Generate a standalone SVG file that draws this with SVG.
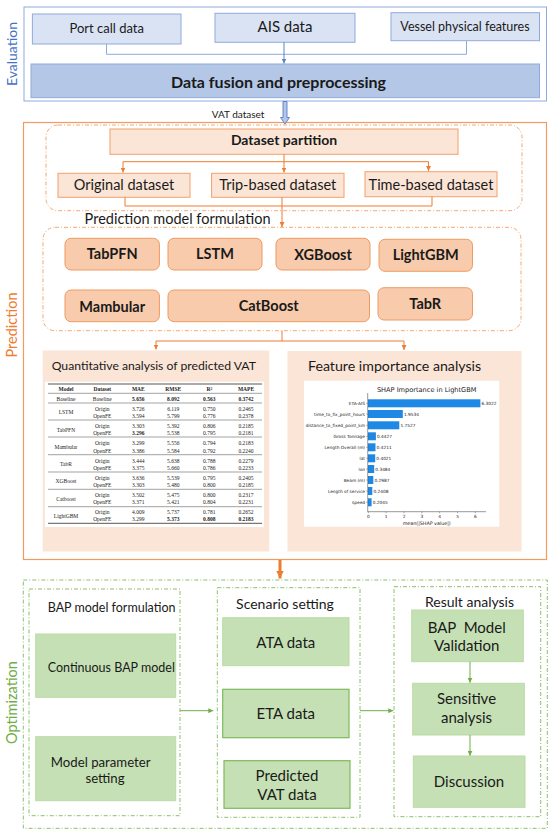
<svg xmlns="http://www.w3.org/2000/svg" width="550" height="834" viewBox="0 0 550 834">
<defs>
<style>
text{font-family:Lato,"Open Sans","Liberation Sans",sans-serif;fill:#1a1a1a}
.c{text-anchor:middle}
.b{font-weight:bold}
.blue{fill:#dae3f3;stroke:#8faadc;stroke-width:1}
.part{fill:#fbe5d6;stroke:#f2a06b;stroke-width:1}
.mdl{fill:#f8cbad;stroke:#f09a5f;stroke-width:1}
.odash{fill:none;stroke:#f4a872;stroke-width:1;stroke-dasharray:4 2 1 2}
.gdash{fill:none;stroke:#8cc06a;stroke-width:1;stroke-dasharray:4 2 1 2}
.g{fill:#c5e0b4;stroke:#b9dba3;stroke-width:1}
.g2{fill:#c5e0b4;stroke:#7fb95a;stroke-width:1.2}
.tb text{font-family:"Liberation Serif","Times New Roman",serif;font-size:5.5px;text-anchor:middle;fill:#222}
.tb line{stroke:#444;stroke-width:0.5}
.sh text{font-family:"DejaVu Sans",sans-serif;font-size:4.3px;fill:#222}
.bar{fill:#1e88e5}
</style>
<marker id="ao" viewBox="0 0 6 6" refX="6" refY="3" markerWidth="5" markerHeight="5" orient="auto" markerUnits="userSpaceOnUse"><path d="M0,0 L6,3 L0,6 z" fill="#ed7d31"/></marker>
<marker id="ab" viewBox="0 0 6 6" refX="6" refY="3" markerWidth="5" markerHeight="5" orient="auto" markerUnits="userSpaceOnUse"><path d="M0,0 L6,3 L0,6 z" fill="#5b84c9"/></marker>
<marker id="ag" viewBox="0 0 6 6" refX="6" refY="3" markerWidth="5" markerHeight="5" orient="auto" markerUnits="userSpaceOnUse"><path d="M0,0 L6,3 L0,6 z" fill="#70ad47"/></marker>
<marker id="aO" viewBox="0 0 6 6" refX="6" refY="3" markerWidth="8" markerHeight="8" orient="auto" markerUnits="userSpaceOnUse"><path d="M0,0 L6,3 L0,6 z" fill="#ed7d31"/></marker>
</defs>
<rect width="550" height="834" fill="#ffffff"/>

<!-- Evaluation -->
<g id="evaluation">
<rect x="24" y="7" width="522.5" height="94" fill="none" stroke="#8faadc" stroke-width="1"/>
<text transform="translate(17,54) rotate(-90)" class="c" style="font-size:14px;fill:#4472c4">Evaluation</text>
</g>
<g id="port-call"><rect class="blue" x="32.4" y="14" width="148.6" height="30"/><text class="c" x="106.7" y="32.5" style="font-size:13px">Port call data</text></g>
<g id="ais"><rect class="blue" x="215" y="13.3" width="140" height="29"/><text class="c" x="285" y="32.2" style="font-size:15px">AIS data</text></g>
<g id="vessel"><rect class="blue" x="391" y="12.7" width="148.5" height="28"/><text class="c" x="465" y="31" style="font-size:12.5px">Vessel physical features</text></g>
<g id="fusion"><rect x="31" y="64" width="508.5" height="33.7" fill="#b4c7e7" stroke="#8faadc" stroke-width="1"/><text class="c b" x="278.5" y="88.4" style="font-size:16px">Data fusion and preprocessing</text></g>

<!-- Prediction -->
<g id="prediction">
<rect x="23.5" y="122.5" width="523" height="437" fill="none" stroke="#f19a62" stroke-width="1.2"/>
<text transform="translate(17,325) rotate(-90)" class="c" style="font-size:14.5px;fill:#ed7d31">Prediction</text>
<rect class="odash" x="46" y="125" width="476" height="85.7" rx="12"/>
<rect class="odash" x="43" y="227.3" width="478" height="103.4" rx="12"/>
<text x="84.6" y="224.3" style="font-size:14.5px">Prediction model formulation</text>
</g>
<g id="dataset-partition"><rect class="part" x="110" y="129" width="348" height="25.3"/><text class="c b" x="284" y="144.5" style="font-size:14px">Dataset partition</text></g>
<g id="original-dataset"><rect class="part" x="58" y="173.3" width="132" height="24"/><text class="c" x="124" y="190.3" style="font-size:14.5px">Original dataset</text></g>
<g id="trip-dataset"><rect class="part" x="211.6" y="173.3" width="132.4" height="24"/><text class="c" x="277.8" y="190.3" style="font-size:14.5px">Trip-based dataset</text></g>
<g id="time-dataset"><rect class="part" x="365" y="171.7" width="132" height="25"/><text class="c" x="431" y="189.5" style="font-size:14.5px">Time-based dataset</text></g>

<g id="tabpfn"><rect class="mdl" x="65" y="238.3" width="94.4" height="31.7" rx="6"/><text class="c b" x="112.2" y="259.3" style="font-size:14.5px">TabPFN</text></g>
<g id="lstm"><rect class="mdl" x="168" y="238.3" width="94" height="31.7" rx="6"/><text class="c b" x="215" y="259.3" style="font-size:14.5px">LSTM</text></g>
<g id="xgboost"><rect class="mdl" x="276" y="238.3" width="94" height="31.7" rx="6"/><text class="c b" x="323" y="260" style="font-size:14.5px">XGBoost</text></g>
<g id="lightgbm"><rect class="mdl" x="379" y="239.3" width="93.5" height="32" rx="6"/><text class="c b" x="425.7" y="260" style="font-size:14.5px">LightGBM</text></g>
<g id="mambular"><rect class="mdl" x="65" y="290" width="94.4" height="31.7" rx="6"/><text class="c b" x="112.2" y="311.5" style="font-size:14.5px">Mambular</text></g>
<g id="catboost"><rect class="mdl" x="168" y="290" width="201.5" height="31.7" rx="6"/><text class="c b" x="268.7" y="310.5" style="font-size:14.5px">CatBoost</text></g>
<g id="tabr"><rect class="mdl" x="378" y="287.7" width="94.5" height="32.3" rx="6"/><text class="c b" x="425.2" y="309" style="font-size:14.5px">TabR</text></g>

<!-- Quantitative analysis panel -->
<g id="quantitative-analysis">
<rect x="42.7" y="350.5" width="226.5" height="201" fill="#fbe5d6"/>
<text x="51.7" y="369.5" style="font-size:12.2px">Quantitative analysis of predicted VAT</text>
<rect x="45" y="381.7" width="219" height="145.3" fill="#ffffff"/>
<g class="tb">
<line x1="48" y1="384" x2="262" y2="384" style="stroke-width:0.9"/>
<line x1="48" y1="393.3" x2="262" y2="393.3"/>
<line x1="48" y1="403" x2="262" y2="403"/>
<line x1="48" y1="420" x2="262" y2="420"/>
<line x1="48" y1="437" x2="262" y2="437"/>
<line x1="48" y1="454.7" x2="262" y2="454.7"/>
<line x1="48" y1="472" x2="262" y2="472"/>
<line x1="48" y1="489.3" x2="262" y2="489.3"/>
<line x1="48" y1="506.7" x2="262" y2="506.7"/>
<line x1="48" y1="523.3" x2="262" y2="523.3" style="stroke-width:0.9"/>
<g style="font-weight:bold">
<text x="66" y="391">Model</text><text x="102.3" y="391">Dataset</text><text x="138.3" y="391">MAE</text><text x="173.3" y="391">RMSE</text><text x="209.3" y="391">R<tspan dy="-1.5" style="font-size:3.5px">2</tspan></text><text x="246" y="391">MAPE</text>
</g>
<text x="66" y="401">Baseline</text><text x="102.3" y="401">Baseline</text>
<g style="font-weight:bold"><text x="138.3" y="401">5.656</text><text x="173.3" y="401">8.092</text><text x="209.3" y="401">0.563</text><text x="246" y="401">0.3742</text></g>

<text x="66" y="414.4">LSTM</text>
<text x="102.3" y="411">Origin</text><text x="138.3" y="411">3.726</text><text x="173.3" y="411">6.119</text><text x="209.3" y="411">0.750</text><text x="246" y="411">0.2465</text>
<text x="102.3" y="417.7">OpenFE</text><text x="138.3" y="417.7">3.594</text><text x="173.3" y="417.7">5.799</text><text x="209.3" y="417.7">0.776</text><text x="246" y="417.7">0.2378</text>

<text x="66" y="431.7">TabPFN</text>
<text x="102.3" y="428">Origin</text><text x="138.3" y="428">3.303</text><text x="173.3" y="428">5.392</text><text x="209.3" y="428">0.806</text><text x="246" y="428">0.2185</text>
<text x="102.3" y="435.3">OpenFE</text><text x="138.3" y="435.3" style="font-weight:bold">3.296</text><text x="173.3" y="435.3">5.538</text><text x="209.3" y="435.3">0.795</text><text x="246" y="435.3">0.2181</text>

<text x="66" y="449">Mambular</text>
<text x="102.3" y="445.3">Origin</text><text x="138.3" y="445.3">3.299</text><text x="173.3" y="445.3">5.556</text><text x="209.3" y="445.3">0.794</text><text x="246" y="445.3">0.2183</text>
<text x="102.3" y="452.7">OpenFE</text><text x="138.3" y="452.7">3.386</text><text x="173.3" y="452.7">5.584</text><text x="209.3" y="452.7">0.792</text><text x="246" y="452.7">0.2240</text>

<text x="66" y="466.2">TabR</text>
<text x="102.3" y="462.7">Origin</text><text x="138.3" y="462.7">3.444</text><text x="173.3" y="462.7">5.638</text><text x="209.3" y="462.7">0.788</text><text x="246" y="462.7">0.2279</text>
<text x="102.3" y="469.7">OpenFE</text><text x="138.3" y="469.7">3.375</text><text x="173.3" y="469.7">5.660</text><text x="209.3" y="469.7">0.786</text><text x="246" y="469.7">0.2233</text>

<text x="66" y="483.2">XGBoost</text>
<text x="102.3" y="479.7">Origin</text><text x="138.3" y="479.7">3.636</text><text x="173.3" y="479.7">5.539</text><text x="209.3" y="479.7">0.795</text><text x="246" y="479.7">0.2405</text>
<text x="102.3" y="486.7">OpenFE</text><text x="138.3" y="486.7">3.303</text><text x="173.3" y="486.7">5.480</text><text x="209.3" y="486.7">0.800</text><text x="246" y="486.7">0.2185</text>

<text x="66" y="500.5">Catboost</text>
<text x="102.3" y="497">Origin</text><text x="138.3" y="497">3.502</text><text x="173.3" y="497">5.475</text><text x="209.3" y="497">0.800</text><text x="246" y="497">0.2317</text>
<text x="102.3" y="504">OpenFE</text><text x="138.3" y="504">3.371</text><text x="173.3" y="504">5.421</text><text x="209.3" y="504">0.804</text><text x="246" y="504">0.2231</text>

<text x="66" y="517.8">LightGBM</text>
<text x="102.3" y="514.3">Origin</text><text x="138.3" y="514.3">4.009</text><text x="173.3" y="514.3">5.737</text><text x="209.3" y="514.3">0.781</text><text x="246" y="514.3">0.2652</text>
<text x="102.3" y="521.3">OpenFE</text><text x="138.3" y="521.3">3.299</text><text x="173.3" y="521.3" style="font-weight:bold">5.373</text><text x="209.3" y="521.3" style="font-weight:bold">0.808</text><text x="246" y="521.3" style="font-weight:bold">0.2183</text>
</g>
</g>

<!-- Feature importance panel -->
<g id="feature-importance">
<rect x="287.5" y="351" width="234" height="200.5" fill="#fbe5d6"/>
<text x="308" y="371.3" style="font-size:14.2px">Feature importance analysis</text>
<rect x="304" y="380.7" width="195.3" height="146" fill="#ffffff"/>
<g class="sh">
<text x="426.7" y="391.5" style="font-size:6.6px;text-anchor:middle">SHAP Importance in LightGBM</text>
<rect class="bar" x="368" y="399.3" width="112.4" height="8"/>
<rect class="bar" x="368" y="410" width="34.8" height="8"/>
<rect class="bar" x="368" y="421.3" width="31.3" height="8"/>
<rect class="bar" x="368" y="432.3" width="7.9" height="8"/>
<rect class="bar" x="368" y="443.3" width="7.5" height="8"/>
<rect class="bar" x="368" y="454.3" width="7.2" height="8"/>
<rect class="bar" x="368" y="465" width="6.2" height="8"/>
<rect class="bar" x="368" y="476" width="5.3" height="8"/>
<rect class="bar" x="368" y="487" width="4.3" height="8"/>
<rect class="bar" x="368" y="498.3" width="3.6" height="8"/>
<g style="text-anchor:end">
<text x="365" y="404.8">ETA-AIS</text>
<text x="365" y="415.5">time_to_fix_point_hours</text>
<text x="365" y="426.8">distance_to_fixed_point_km</text>
<text x="365" y="437.8">Gross Tonnage</text>
<text x="365" y="448.8">Length Overall (m)</text>
<text x="365" y="459.8">lat</text>
<text x="365" y="470.5">lon</text>
<text x="365" y="481.5">Beam (m)</text>
<text x="365" y="492.5">Length of service</text>
<text x="365" y="503.8">speed</text>
</g>
<text x="481.5" y="404.8">6.3022</text>
<text x="403.9" y="415.5">1.9534</text>
<text x="400.4" y="426.8">1.7527</text>
<text x="377" y="437.8">0.4427</text>
<text x="376.6" y="448.8">0.4211</text>
<text x="376.3" y="459.8">0.4021</text>
<text x="375.3" y="470.5">0.3484</text>
<text x="374.4" y="481.5">0.2987</text>
<text x="373.4" y="492.5">0.2408</text>
<text x="372.7" y="503.8">0.2045</text>
<path d="M367.7 393 V511.7 H486" fill="none" stroke="#333" stroke-width="0.5"/>
<path d="M368.3 511.7 v1.5 M386.1 511.7 v1.5 M404 511.7 v1.5 M421.8 511.7 v1.5 M439.6 511.7 v1.5 M457.5 511.7 v1.5 M475.3 511.7 v1.5 M366.2 403.3 h1.5 M366.2 414 h1.5 M366.2 425.3 h1.5 M366.2 436.3 h1.5 M366.2 447.3 h1.5 M366.2 458.3 h1.5 M366.2 469 h1.5 M366.2 480 h1.5 M366.2 491 h1.5 M366.2 502.3 h1.5" stroke="#333" stroke-width="0.4"/>
<g style="text-anchor:middle">
<text x="368.3" y="518.3">0</text><text x="386.1" y="518.3">1</text><text x="404" y="518.3">2</text><text x="421.8" y="518.3">3</text><text x="439.6" y="518.3">4</text><text x="457.5" y="518.3">5</text><text x="475.3" y="518.3">6</text>
<text x="426.7" y="524.8" style="font-size:4.8px">mean(|SHAP value|)</text>
</g>
</g>
</g>

<!-- Optimization -->
<g id="optimization">
<rect class="gdash" x="23.3" y="580" width="524" height="248.3"/>
<text transform="translate(17,702.5) rotate(-90)" class="c" style="font-size:14.5px;fill:#70ad47">Optimization</text>
<rect class="gdash" x="29" y="589" width="151" height="226.7"/>
<text x="47.7" y="612.3" style="font-size:12.5px">BAP model formulation</text>
<rect class="gdash" x="217.3" y="587.7" width="142.7" height="229.6"/>
<text class="c" x="285" y="609" style="font-size:14px">Scenario setting</text>
<rect class="gdash" x="394" y="586.7" width="146.7" height="230"/>
<text class="c" x="469.5" y="606.7" style="font-size:14px">Result analysis</text>
</g>
<g id="continuous-bap"><rect class="g" x="35.7" y="634" width="140" height="63.3"/><text x="47.7" y="671.8" style="font-size:12.5px">Continuous BAP model</text></g>
<g id="model-parameter"><rect class="g" x="35.7" y="736.7" width="140" height="64"/><text class="c" x="100.7" y="767" style="font-size:13.2px">Model parameter</text><text class="c" x="105" y="783" style="font-size:13.2px">setting</text></g>
<g id="ata-data"><rect class="g" x="222.7" y="617.7" width="126.3" height="48"/><text class="c" x="285.8" y="647.5" style="font-size:15px">ATA data</text></g>
<g id="eta-data"><rect class="g2" x="222.7" y="689.3" width="126.3" height="48.4"/><text class="c" x="285.8" y="719.2" style="font-size:15px">ETA data</text></g>
<g id="predicted-vat"><rect class="g2" x="224" y="760.7" width="126" height="47.6"/><text class="c" x="287" y="781" style="font-size:15px">Predicted</text><text class="c" x="287" y="799.5" style="font-size:15px">VAT data</text></g>
<g id="bap-validation"><rect class="g" x="411.7" y="610" width="111.6" height="51.7"/><text class="c" x="466.7" y="632.5" style="font-size:15px" xml:space="preserve">BAP  Model</text><text class="c" x="466.7" y="651" style="font-size:15px">Validation</text></g>
<g id="sensitive-analysis"><rect class="g" x="412.7" y="683.3" width="111.6" height="51.7"/><text class="c" x="466.5" y="704.2" style="font-size:15px">Sensitive</text><text class="c" x="466.5" y="722.9" style="font-size:15px">analysis</text></g>
<g id="discussion"><rect class="g" x="413.3" y="756" width="111.7" height="51.3"/><text class="c" x="469" y="787" style="font-size:15px">Discussion</text></g>

<!-- Connectors -->
<g id="connectors" fill="none">
<path d="M106.5 44 V54.3 H466.5 V40.7" stroke="#8faadc" stroke-width="1"/>
<path d="M284 42.3 V63.5" stroke="#5b84c9" stroke-width="1" marker-end="url(#ab)"/>
<path d="M283 101.5 H287 V117.5 H289.5 L285 124 L280.5 117.5 H283 Z" fill="#b4c7e7" stroke="#4472c4" stroke-width="0.8"/>
<text x="211.7" y="117.8" style="font-size:10px">VAT dataset</text>
<path d="M284 154.3 V172.5" stroke="#ed7d31" stroke-width="1" marker-end="url(#ao)"/>
<path d="M123 161.7 H428.5" stroke="#ed7d31" stroke-width="1"/>
<path d="M123 161.7 V172.5" stroke="#ed7d31" stroke-width="1" marker-end="url(#ao)"/>
<path d="M428.5 161.7 V171" stroke="#ed7d31" stroke-width="1" marker-end="url(#ao)"/>
<path d="M125 197.3 V206 H432 V196.7" stroke="#ed7d31" stroke-width="1"/>
<path d="M282 197.3 V227" stroke="#ed7d31" stroke-width="1" marker-end="url(#ao)"/>
<path d="M282 330.7 V341 M156 341 H404" stroke="#ed7d31" stroke-width="1"/>
<path d="M156 341 V349.5" stroke="#ed7d31" stroke-width="1" marker-end="url(#ao)"/>
<path d="M404 341 V350" stroke="#ed7d31" stroke-width="1" marker-end="url(#ao)"/>
<path d="M280 560 V578.5" stroke="#ed7d31" stroke-width="3" marker-end="url(#aO)"/>
<path d="M180 710.7 H213.3" stroke="#70ad47" stroke-width="1" marker-end="url(#ag)"/>
<path d="M360 710.7 H393.3" stroke="#70ad47" stroke-width="1" marker-end="url(#ag)"/>
<path d="M470 661.7 V682.8" stroke="#70ad47" stroke-width="1" marker-end="url(#ag)"/>
<path d="M470 735 V755.7" stroke="#70ad47" stroke-width="1" marker-end="url(#ag)"/>
</g>
</svg>
